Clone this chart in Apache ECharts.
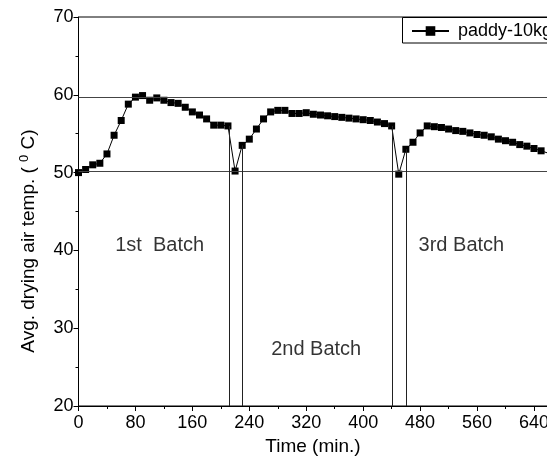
<!DOCTYPE html>
<html>
<head>
<meta charset="utf-8">
<script src="https://cdn.jsdelivr.net/npm/echarts@6/dist/echarts.min.js"></script>
<style>
  html, body { margin: 0; padding: 0; background: #fff; }
  #chart { width: 547px; height: 470px; }
</style>
</head>
<body>
<div id="chart"></div>
<script>
// Drying time (minutes) and average drying-air temperature (deg C)
const times = [0, 10, 20, 30, 40, 50, 60, 70, 80, 90, 100, 110, 120, 130, 140, 150, 160, 170, 180, 190, 200, 210,
               220, 230, 240, 250, 260, 270, 280, 290, 300, 310, 320, 330, 340, 350, 360, 370, 380, 390, 400, 410, 420, 430, 440,
               450, 460, 470, 480, 490, 500, 510, 520, 530, 540, 550, 560, 570, 580, 590, 600, 610, 620, 630, 640, 650, 660];
const temps = [50.0, 50.4, 51.0, 51.2, 52.4, 54.8, 56.7, 58.8, 59.7, 59.9, 59.3, 59.6, 59.3, 59.0, 58.9, 58.4, 57.8, 57.4, 56.9, 56.1, 56.1, 56.0,
               50.2, 53.5, 54.3, 55.6, 56.9, 57.8, 58.0, 58.0, 57.6, 57.6, 57.7, 57.5, 57.4, 57.3, 57.2, 57.1, 57.0, 56.9, 56.8, 56.7, 56.5, 56.3, 56.0,
               49.8, 53.0, 53.9, 55.1, 56.0, 55.9, 55.8, 55.6, 55.4, 55.3, 55.1, 54.9, 54.8, 54.6, 54.3, 54.1, 53.9, 53.6, 53.4, 53.1, 52.8, 52.5];

// Batch change-over markers (time, temperature at top of marker)
const dividerTimes = [212, 230, 441, 461];
const dividerTops = [56.0, 53.5, 56.0, 53.0];

// Horizontal reference levels
const refLevels = [59.7, 50.2];

// Batch annotations
const batchNames = ['1st  Batch', '2nd Batch', '3rd Batch'];
const batchTimes = [114, 334, 538];
const batchTemps = [40.6, 27.2, 40.6];

const seriesName = 'paddy-10kg';
const FONT = '"Liberation Sans", Arial, Helvetica, sans-serif';

const chart = echarts.init(document.getElementById('chart'), null, { renderer: 'canvas' });

const points = times.map((t, i) => [t, temps[i]]);

const markLineData = [];
refLevels.forEach(v => {
  markLineData.push({ yAxis: v, lineStyle: { color: '#444', width: 1, type: 'solid' } });
});
dividerTimes.forEach((t, i) => {
  markLineData.push([
    { coord: [t, 20], lineStyle: { color: '#222', width: 1, type: 'solid' } },
    { coord: [t, dividerTops[i]] }
  ]);
});

chart.setOption({
  animation: false,
  backgroundColor: '#fff',
  textStyle: { fontFamily: FONT },
  grid: {
    left: 78.5, top: 17, width: 469, height: 389,
    outerBoundsMode: 'none',
    containLabel: false,
    show: true, borderColor: '#000', borderWidth: 1, backgroundColor: 'transparent'
  },
  legend: {
    data: [seriesName],
    left: 402, top: 17,
    orient: 'horizontal',
    borderWidth: 0,
    padding: [5, 0, 5, 9],
    itemWidth: 37, itemHeight: 12,
    z: 6,
    textStyle: { fontSize: 18, color: '#000', fontFamily: FONT, padding: [0, 0, 0, 4] }
  },
  xAxis: {
    type: 'value',
    min: 0, max: 659, interval: 80,
    name: 'Time (min.)',
    nameLocation: 'middle',
    nameGap: 22,
    nameTextStyle: { fontSize: 19, color: '#000', fontFamily: FONT },
    axisLine: { onZero: false, lineStyle: { color: '#000', width: 1 } },
    axisTick: { show: true, inside: false, length: 5, lineStyle: { color: '#000' } },
    minorTick: { show: true, splitNumber: 2, length: 3, lineStyle: { color: '#000' } },
    axisLabel: { fontSize: 18, color: '#000', margin: 8, fontFamily: FONT, showMaxLabel: false, hideOverlap: false },
    splitLine: { show: false }
  },
  yAxis: {
    type: 'value',
    min: 20, max: 70, interval: 10,
    axisLine: { show: true, onZero: false, lineStyle: { color: '#000', width: 1 } },
    axisTick: { show: true, inside: false, length: 5, lineStyle: { color: '#000' } },
    minorTick: { show: true, splitNumber: 2, length: 3, lineStyle: { color: '#000' } },
    axisLabel: { fontSize: 18, color: '#000', margin: 5, fontFamily: FONT },
    splitLine: { show: false }
  },
  graphic: [
    {
      // legend frame, running off the right edge of the canvas
      type: 'rect',
      z: 5,
      shape: { x: 402.5, y: 17.5, width: 200, height: 25.5 },
      style: { fill: '#fff', stroke: '#000', lineWidth: 1 }
    },
    {
      type: 'text',
      x: 29, y: 241,
      rotation: Math.PI / 2,
      style: {
        text: 'Avg. drying air temp. ( {sup|0} C)',
        fill: '#000',
        font: '19px ' + FONT,
        align: 'center',
        verticalAlign: 'middle',
        rich: {
          sup: { fontSize: 13, fontFamily: FONT, fill: '#000', verticalAlign: 'top', padding: [0, 0, 9, 0] }
        }
      }
    }
  ],
  series: [
    {
      name: seriesName,
      type: 'line',
      data: points,
      symbol: 'rect',
      symbolSize: 7,
      showAllSymbol: true,
      clip: true,
      itemStyle: { color: '#000' },
      lineStyle: { color: '#000', width: 1 },
      z: 3,
      markLine: {
        silent: true,
        symbol: ['none', 'none'],
        label: { show: false },
        data: markLineData
      }
    },
    {
      name: 'batches',
      type: 'scatter',
      symbolSize: 0,
      silent: true,
      data: batchNames.map((n, i) => ({ name: n, value: [batchTimes[i], batchTemps[i]] })),
      label: {
        show: true,
        position: 'inside',
        formatter: p => p.name,
        fontSize: 20,
        color: '#000',
        fontFamily: FONT
      }
    }
  ]
});
</script>
</body>
</html>
